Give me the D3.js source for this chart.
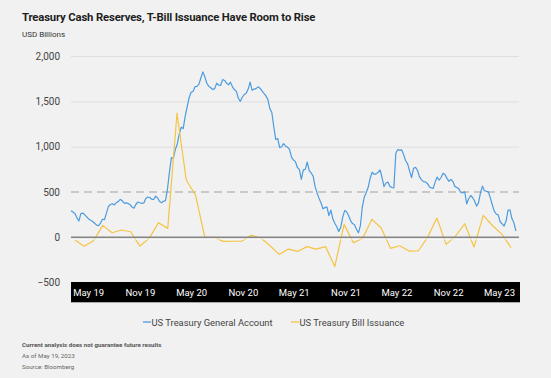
<!DOCTYPE html>
<html><head><meta charset="utf-8">
<script src="https://cdn.jsdelivr.net/npm/d3@7"></script>
<style>
html,body{margin:0;padding:0;background:#f1f1f1;}
svg{display:block;font-family:Roboto, "Noto Sans", sans-serif;}
</style></head>
<body><svg id="c" width="551" height="378"></svg>
<script>
// ---------- data ----------
const title = "Treasury Cash Reserves, T-Bill Issuance Have Room to Rise";
const unitLabel = "USD Billions";
const seriesNames = ["US Treasury General Account", "US Treasury Bill Issuance"];
const yTicks = [-500, 0, 500, 1000, 1500, 2000];
const refLevel = 500;
const xTickDates = ["2019-05-01","2019-11-01","2020-05-01","2020-11-01","2021-05-01","2021-11-01","2022-05-01","2022-11-01","2023-05-01"];
const xTickLabels = ["May 19","Nov 19","May 20","Nov 20","May 21","Nov 21","May 22","Nov 22","May 23"];
const xDomain = ["2019-03-01","2023-07-11"];
// TGA, weekly from start date
const tgaStart = "2019-03-01";
const tgaStepDays = 7;
const tgaValues = [294,280,262,215,180,262,268,248,225,202,188,175,155,135,128,158,200,195,268,342,
362,370,358,382,395,418,405,378,380,374,360,335,322,365,390,382,375,380,428,445,
440,420,418,455,435,395,382,398,405,530,720,880,872,970,1030,1140,1215,1200,1335,1440,
1540,1600,1610,1662,1665,1690,1760,1825,1770,1700,1665,1650,1630,1640,1700,1678,1675,1740,1730,1702,
1682,1712,1660,1630,1610,1534,1500,1545,1575,1590,1635,1712,1622,1635,1640,1660,1645,1615,1589,1560,
1520,1420,1380,1220,1080,1090,990,1000,1035,1005,995,970,885,853,835,770,750,640,745,750,
830,735,710,675,560,490,430,380,315,328,335,240,300,205,155,117,65,110,220,295,
282,242,185,152,140,90,50,130,340,445,495,555,655,718,695,700,718,743,660,560,
600,610,562,550,545,927,968,962,964,910,845,810,730,660,762,772,740,670,636,614,
612,595,559,545,541,612,665,630,660,706,692,650,618,640,615,562,550,535,495,490,
503,370,425,462,440,400,345,380,490,565,515,508,503,435,360,290,258,248,172,148,
125,180,300,302,205,160,70];
// T-bill issuance, periodic points
const billStart = "2019-03-15";
const billStepDays = 33;
const billValues = [-30,-99,-38,132,51,81,62,-96,-11,161,99,1369,632,464,0,0,-44,-43,-41,22,
-4,-90,-188,-129,-155,-102,-129,-102,-322,143,-60,-11,199,103,-121,-93,-151,-148,0,213,
-77,14,150,-107,243,128,36,-115];
const footnotes = ["Current analysis does not guarantee future results","As of May 19, 2023","Source: Bloomberg"];

// ---------- drawing ----------
const parse = d3.utcParse("%Y-%m-%d");
const svg = d3.select("#c");
const colors = ["#4b9be0", "#f5c443"];

const x = d3.scaleUtc().domain(xDomain.map(parse)).range([71, 519]);
const y = d3.scaleLinear().domain([-500, 2000]).range([282.7, 56]);

const tga = tgaValues.map((v,i)=>({d:d3.utcDay.offset(parse(tgaStart), i*tgaStepDays), v}));
const bills = billValues.map((v,i)=>({d:d3.utcDay.offset(parse(billStart), i*billStepDays), v}));

svg.append("text").attr("x",22).attr("y",20.5).attr("font-size",11.3).attr("font-weight",700)
  .attr("fill","#1e1e1e").attr("font-family","Roboto, sans-serif").attr("letter-spacing",-0.15).text(title);
svg.append("text").attr("x",22).attr("y",36.5).attr("font-size",8).attr("fill","#333").text(unitLabel);

// grid
const yAxis = d3.axisLeft(y).tickValues(yTicks).tickSize(-(519-71)).tickPadding(11)
  .tickFormat(d=> d<0 ? "\u2212"+d3.format(",")(-d) : d3.format(",")(d));
const gy = svg.append("g").attr("transform","translate(71,0)").call(yAxis);
gy.select(".domain").remove();
gy.selectAll(".tick line").attr("stroke","#dedede").attr("stroke-width",1);
gy.selectAll(".tick text").attr("font-size",10).attr("fill","#444").attr("font-family","Roboto, sans-serif");
gy.selectAll(".tick").filter(d=>d===-500).select("line").remove();
gy.selectAll(".tick").filter(d=>d===0 || d===refLevel).select("line").remove();

// reference dashed line
svg.append("line").attr("x1",71).attr("x2",519).attr("y1",y(refLevel)).attr("y2",y(refLevel))
  .attr("stroke","#bcbcbc").attr("stroke-width",1.6).attr("stroke-dasharray","8,5");

// lines
const line = d3.line().x(d=>x(d.d)).y(d=>y(d.v));
svg.append("path").datum(tga).attr("d",line).attr("fill","none").attr("stroke",colors[0]).attr("stroke-width",1.2).attr("stroke-linejoin","round");
svg.append("path").datum(bills).attr("d",line).attr("fill","none").attr("stroke",colors[1]).attr("stroke-width",1.2).attr("stroke-linejoin","round");

// zero line
svg.append("line").attr("x1",71).attr("x2",519).attr("y1",y(0)).attr("y2",y(0))
  .attr("stroke","#858585").attr("stroke-width",1.8);
svg.append("line").attr("x1",71).attr("x2",519).attr("y1",y(0)+1.6).attr("y2",y(0)+1.6)
  .attr("stroke","#ffffff").attr("stroke-width",0.9);

// x axis band
svg.append("rect").attr("x",71).attr("y",282).attr("width",449).attr("height",20.3).attr("fill","#000");
const xAxis = d3.axisBottom(x).tickValues(xTickDates.map(parse)).tickSize(0).tickPadding(0)
  .tickFormat((d,i)=>xTickLabels[i]);
const gx = svg.append("g").attr("transform","translate(0,296)").call(xAxis);
gx.select(".domain").remove();
gx.selectAll(".tick text").attr("dy",0).attr("font-size",9.5).attr("fill","#fff").attr("font-family","Roboto, sans-serif");

// legend
const leg = [{x:143, c:colors[0], t:seriesNames[0]},{x:291, c:colors[1], t:seriesNames[1]}];
leg.forEach(l=>{
  svg.append("line").attr("x1",l.x).attr("x2",l.x+8).attr("y1",322).attr("y2",322).attr("stroke",l.c).attr("stroke-width",1.3);
  svg.append("text").attr("x",l.x+8.5).attr("y",325.5).attr("font-size",9.4).attr("fill","#444").text(l.t);
});

// footnotes
svg.append("text").attr("x",22).attr("y",346.5).attr("font-size",6.2).attr("font-weight",700).attr("fill","#555").text(footnotes[0]);
svg.append("text").attr("x",22).attr("y",357.5).attr("font-size",6.2).attr("fill","#666").text(footnotes[1]);
svg.append("text").attr("x",22).attr("y",368.5).attr("font-size",6.2).attr("fill","#666").text(footnotes[2]);
</script></body></html>
